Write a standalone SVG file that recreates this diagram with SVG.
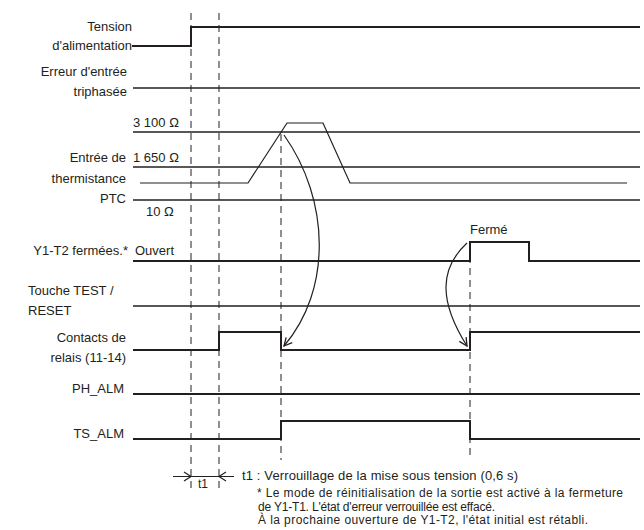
<svg xmlns="http://www.w3.org/2000/svg" width="644" height="530" viewBox="0 0 644 530">
<style>
text{font-family:"Liberation Sans",Arial,sans-serif;font-size:13px;fill:#231f20}
.r{text-anchor:end}
.fn{font-size:12px}
.w{fill:none;stroke:#231f20;stroke-width:2}
.t{fill:none;stroke:#231f20;stroke-width:1.5}
.th{fill:none;stroke:#231f20;stroke-width:1.2}
.d{fill:none;stroke:#231f20;stroke-width:1;stroke-dasharray:7 5}
.a{fill:none;stroke:#231f20;stroke-width:1.2}
</style>
<defs>
<marker id="ah" viewBox="0 0 10 10" refX="9" refY="5" markerWidth="10" markerHeight="10" markerUnits="userSpaceOnUse" orient="auto">
<path d="M1,1 L9,5 L1,9" fill="none" stroke="#231f20" stroke-width="1.3"/>
</marker>
</defs>
<rect width="644" height="530" fill="#fff"/>
<g id="guides">
<path class="d" d="M191,13 V492"/>
<path class="d" d="M219,13 V492"/>
<path class="d" d="M281,134 V460"/>
<path class="d" d="M470,244 V460"/>
</g>
<g id="tension">
<text class="r" x="132" y="31">Tension</text>
<text class="r" x="132" y="50">d'alimentation</text>
<path class="w" d="M132,46 H191 V27 H640"/>
</g>
<g id="erreur">
<text class="r" x="127" y="76">Erreur d'entrée</text>
<text class="r" x="127" y="96">triphasée</text>
<path class="t" d="M133,88 H640"/>
</g>
<g id="thermistance">
<text x="133" y="127">3 100 Ω</text>
<text class="r" x="126" y="162">Entrée de</text>
<text x="133" y="162">1 650 Ω</text>
<text class="r" x="126" y="183">thermistance</text>
<text class="r" x="126" y="203">PTC</text>
<text x="146" y="216">10 Ω</text>
<path class="t" d="M133,132 H640"/>
<path class="t" d="M133,167 H640"/>
<path class="t" d="M133,200 H640"/>
<path class="th" d="M140,183 H248 L287,123 H323 L350,183 H627"/>
</g>
<g id="y1t2">
<text class="r" x="128" y="255">Y1-T2 fermées.*</text>
<text x="135" y="255">Ouvert</text>
<text x="470" y="234">Fermé</text>
<path class="w" d="M133,261 H470 V242 H529 V261 H640"/>
</g>
<g id="touche">
<text x="28" y="295">Touche TEST /</text>
<text x="28" y="315">RESET</text>
<path class="t" d="M133,306 H640"/>
</g>
<g id="contacts">
<text class="r" x="126" y="342">Contacts de</text>
<text class="r" x="126" y="362">relais (11-14)</text>
<path class="w" d="M133,350 H219 V332 H281 V350 H470 V332 H640"/>
</g>
<g id="phalm">
<text class="r" x="124" y="393">PH_ALM</text>
<path class="w" d="M133,394 H640"/>
</g>
<g id="tsalm">
<text class="r" x="124" y="438">TS_ALM</text>
<path class="w" d="M133,439 H281 V421 H470 V439 H640"/>
</g>
<g id="connectors">
<path class="a" d="M284,135 C330,200 332,290 284,346" marker-end="url(#ah)"/>
<path class="a" d="M467,243 C440,268 438,300 467,346" marker-end="url(#ah)"/>
<path class="a" d="M173,476.5 H234"/>
<path class="a" d="M184,472 L191,476.5 L184,481"/>
<path class="a" d="M226,472 L219,476.5 L226,481"/>
</g>
<g id="notes">
<text x="198" y="488" style="font-size:12px">t1</text>
<text x="242" y="480" textLength="276" lengthAdjust="spacing">t1 : Verrouillage de la mise sous tension (0,6 s)</text>
<text class="fn" x="257" y="497" textLength="366" lengthAdjust="spacing">* Le mode de réinitialisation de la sortie est activé à la fermeture</text>
<text class="fn" x="258" y="510.5" textLength="237" lengthAdjust="spacing">de Y1-T1. L'état d'erreur verrouillée est effacé.</text>
<text class="fn" x="258" y="524" textLength="330" lengthAdjust="spacing">À la prochaine ouverture de Y1-T2, l'état initial est rétabli.</text>
</g>
</svg>
